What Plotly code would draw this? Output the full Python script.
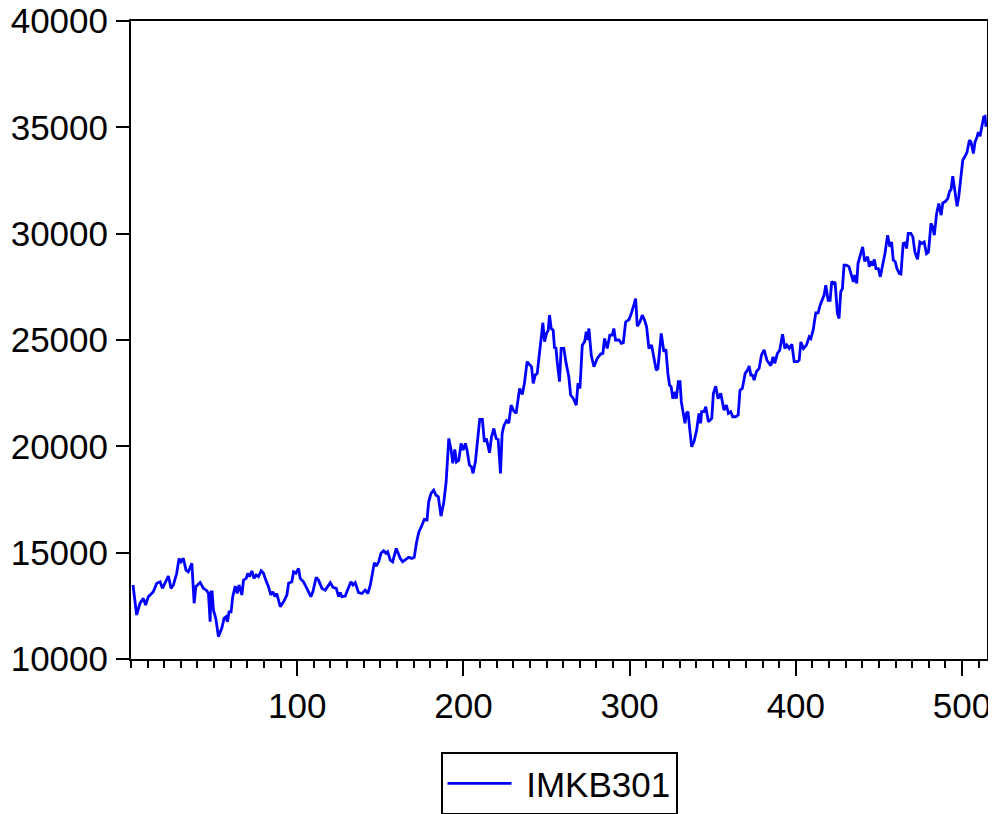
import plotly.graph_objects as go

obs = [1.2,3.4,5.4,7.4,8.8,10.4,12.4,13.4,15.5,17.5,18.9,20.5,22.5,24.1,25.5,27.5,28.9,30.1,31.5,33.1,34.5,36.6,38.0,39.0,41.6,43.6,45.6,46.6,47.6,48.2,48.8,49.6,51.0,52.6,54.6,56.0,57.2,58.0,59.0,60.2,61.2,62.7,63.9,65.0,66.7,67.7,69.3,70.3,71.3,72.7,74.0,75.3,76.7,78.3,79.7,81.1,82.7,84.1,85.3,86.7,87.7,89.8,91.8,93.8,94.8,96.8,97.8,99.2,100.8,
       101.8,103.8,105.8,108.2,109.4,111.4,112.8,114.9,116.9,119.9,121.5,123.5,124.9,125.9,126.9,128.9,130.3,132.3,133.5,134.9,136.9,138.9,140.9,142.5,144.0,145.0,146.4,147.6,149.0,150.4,152.0,153.4,154.4,156.0,157.4,159.6,161.0,162.0,163.4,165.0,167.0,169.0,170.4,171.7,173.1,
       175.1,176.5,178.1,179.1,180.5,182.1,183.5,184.9,186.5,188.1,189.6,191.2,192.6,193.6,194.8,195.8,197.2,198.6,199.8,201.2,202.2,203.6,204.8,205.8,207.2,208.6,209.8,211.4,212.6,213.8,214.6,215.7,216.9,218.3,219.7,220.9,222.3,223.3,
       224.3,225.9,227.3,228.7,230.3,231.7,233.8,235.4,236.7,238.3,240.0,241.0,242.0,243.2,244.4,246.4,247.8,248.8,250.0,251.0,251.8,252.8,254.0,254.8,255.6,256.4,257.8,258.8,260.4,261.8,263.4,264.5,266.1,267.9,268.9,270.1,271.5,272.9,273.9,274.5,275.5,276.9,278.5,280.5,282.5,283.9,284.9,286.5,288.1,289.5,290.5,291.5,293.6,295.0,296.2,297.6,299.6,301.0,302.2,303.6,304.6,306.2,307.6,309.0,310.2,311.6,
       313.2,314.6,316.0,317.0,319.0,320.6,321.8,323.0,324.0,325.0,326.0,327.3,328.1,329.3,330.3,331.1,332.3,333.3,334.1,335.1,336.1,337.3,338.7,340.3,341.7,342.7,343.3,344.8,345.8,347.4,349.4,350.4,351.8,353.2,354.8,356.8,358.2,359.4,360.8,362.0,363.8,365.3,366.4,367.8,369.5,370.9,371.9,372.9,373.9,374.9,376.3,377.9,379.3,380.9,
       382.6,384.9,386.3,387.3,388.9,390.3,392.0,393.4,394.6,396.0,397.6,399.0,401.0,402.0,403.0,404.6,406.4,408.0,409.0,410.4,412.0,413.4,414.6,416.0,417.0,418.0,419.4,420.6,421.6,422.6,423.6,425.0,426.0,427.0,428.0,429.0,430.4,432.0,433.4,434.6,435.4,436.6,437.4,438.6,
       440.2,441.4,443.2,444.2,445.2,446.2,447.2,448.2,449.6,450.8,452.2,453.6,455.2,456.6,457.6,458.6,459.8,460.8,462.2,463.2,464.6,465.8,466.6,467.6,469.2,470.4,471.6,473.2,474.6,475.8,477.2,478.6,479.8,481.3,482.3,483.3,484.7,486.0,487.4,488.4,489.8,491.4,492.4,493.4,494.4,495.4,496.4,497.0,498.0,499.4,500.4,501.8,503.0,504.4,505.4,506.8,507.8,509.0,509.8,510.8,511.8,513.0,513.8,514.4]

imkb301 = [13480,12070,12620,12850,12540,12930,13080,13160,13560,13630,13320,13560,13900,13320,13480,14030,14730,14570,14730,14180,14100,14500,12620,13400,13600,13320,13210,13080,11750,13160,13160,12300,11910,11050,11440,11910,11990,11750,12220,12220,12930,13430,13080,13480,13010,13710,13790,14030,13870,14140,13790,13950,13870,14150,14030,13710,13400,13010,13160,12930,13080,12460,12690,13010,13560,13630,14100,14030,14260,
           13790,13630,13320,12930,13160,13840,13710,13320,13240,13590,13370,13320,12930,13120,12930,12960,13240,13630,13480,13590,13120,13080,13240,13080,13480,13870,14530,14370,14570,14970,15090,14970,15040,14650,14570,15200,14890,14730,14570,14650,14780,14730,14780,15440,15950,
           16300,16570,16540,17390,17790,17940,17700,17630,16720,17320,18330,20370,19820,19200,19850,19270,19350,20140,19820,20140,19820,19120,19040,18730,19270,20290,21270,21270,20210,20370,20140,19700,20450,20840,20370,20320,18730,20610,
           20960,21210,21090,21940,21660,21550,22720,22440,22960,23980,23820,23740,22960,23350,23430,24760,25810,24920,25310,25460,26170,25540,25460,24600,24680,23980,23040,24600,24600,23900,23270,22410,22250,21940,22960,22720,24760,24920,25390,25000,25540,24290,23740,24130,24340,24370,25070,24600,25230,25230,25540,25000,25000,24840,24870,25850,25960,26240,26560,26950,25650,25850,26170,25930,25620,24600,
           24760,24210,23580,23660,25310,24450,24560,23430,22880,22800,22240,22560,22240,23040,23040,22090,21470,21080,21550,21630,20840,19980,20210,20760,21550,21080,21630,21630,21860,21160,21310,22490,22830,22240,22490,21700,21940,21550,21630,21390,21390,21470,22640,22720,23430,23580,23780,23350,23350,23110,23510,23660,24290,24540,
           24050,23790,24210,23900,24370,24520,25270,24600,24760,24600,24800,23980,23980,24050,24910,24600,24760,25150,25070,25460,26280,26280,26640,26950,27110,27580,26870,26870,27760,27660,27730,26250,26010,27260,27420,28520,28520,28440,28050,27730,28050,27660,28600,28910,
           29380,28700,28910,28440,28700,28500,28790,28360,28360,27970,28440,29060,29930,29380,29610,28760,28680,28360,28130,28100,29540,29570,29300,30010,30010,29850,29140,28790,29610,29540,29610,29060,29140,30480,30320,29930,30950,31420,30870,31450,31500,31650,31970,32080,32700,32120,31500,31290,31730,32750,33450,33640,33840,34390,34310,33770,34310,34550,34780,34580,35020,35490,35520,35020]

series_name = "IMKB301"
y_ticks = [10000, 15000, 20000, 25000, 30000, 35000, 40000]
y_tick_text = ["10000", "15000", "20000", "25000", "30000", "35000", "40000"]
x_ticks = [100, 200, 300, 400, 500]
x_tick_text = ["100", "200", "300", "400", "500"]

FONT = "Liberation Sans, Arial, Helvetica, sans-serif"

fig = go.Figure()
fig.add_trace(go.Scatter(x=obs, y=imkb301, mode="lines", name="\u00a0" + series_name,
                         line=dict(color="#0000FF", width=2.8)))

fig.update_layout(
    width=988, height=806,
    margin=dict(l=123, r=9, t=13, b=155, autoexpand=False),
    paper_bgcolor="white", plot_bgcolor="white",
    font=dict(family=FONT, size=35, color="black"),
    showlegend=True,
    legend=dict(orientation="h", x=0.5, xanchor="center", y=-0.146, yanchor="top",
                bordercolor="black", borderwidth=2, font=dict(size=35),
                itemwidth=64),
    xaxis=dict(range=[0, 515], tickvals=x_ticks, ticktext=x_tick_text,
               ticks="outside", ticklen=15, automargin=False, ticklabeloverflow="allow",
               tickwidth=2, tickcolor="black", showline=True, linecolor="black",
               linewidth=2, mirror=True, showgrid=False, zeroline=False,
               minor=dict(dtick=10, tick0=0, ticks="outside", ticklen=7,
                          tickwidth=2, tickcolor="black", showgrid=False)),
    yaxis=dict(range=[10000, 40000], tickvals=y_ticks, ticktext=y_tick_text,
               ticks="outside", ticklen=13, automargin=False, ticklabelstandoff=1,
               ticklabeloverflow="allow",
               tickwidth=2, tickcolor="black", showline=True, linecolor="black",
               linewidth=2, mirror=True, showgrid=False, zeroline=False),
)

fig.write_html("out.html")
